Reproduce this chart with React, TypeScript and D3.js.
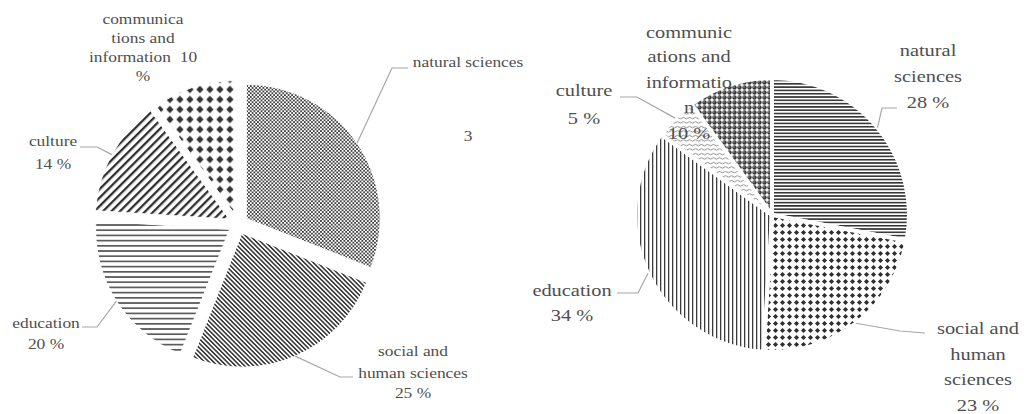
import React from 'react'
import * as d3 from 'd3'

// two survey pies, same five categories
const categories = [
	'natural sciences',
	'social and human sciences',
	'education',
	'culture',
	'communications and information'
]
const leftValues = [31, 25, 20, 14, 10]
const rightValues = [28, 23, 34, 5, 10]

// label text as it wraps in the original
const leftLabelLines = [
	['natural sciences', '3'],
	['social and', 'human sciences', '25 %'],
	['education', '20 %'],
	['culture', '14 %'],
	['communica', 'tions and', 'information  10', '%']
]
const rightLabelLines = [
	['natural', 'sciences', '28 %'],
	['social and', 'human', 'sciences', '23 %'],
	['education', '34 %'],
	['culture', '5 %'],
	['communic', 'ations and', 'informatio', 'n', '10 %']
]

interface ILabelPos {
	x: number
	ys: number[]
	leader?: [number, number][]
}

interface IPieConfig {
	cx: number
	cy: number
	r: number
	explode: number
	fontSize: number
	patterns: string[]
	labels: ILabelPos[]
}

const leftConfig: IPieConfig = {
	cx: 238,
	cy: 224,
	r: 134,
	explode: 10,
	fontSize: 14.5,
	patterns: ['pL0', 'pL1', 'pL2', 'pL3', 'pL4'],
	labels: [
		{ x: 468, ys: [67, 141], leader: [[408, 68], [392, 68]] },
		{ x: 413, ys: [356, 378, 398], leader: [[353, 377], [340, 377]] },
		{ x: 46, ys: [328, 349], leader: [[82, 327], [97, 327]] },
		{ x: 53, ys: [146, 169], leader: [[80, 147], [97, 147]] },
		{ x: 143, ys: [24, 43, 62, 81] }
	]
}

const rightConfig: IPieConfig = {
	cx: 772,
	cy: 215,
	r: 137,
	explode: 0,
	fontSize: 17,
	patterns: ['pR0', 'pR1', 'pR2', 'pR3', 'pR4'],
	labels: [
		{ x: 928, ys: [56, 82, 108], leader: [[897, 108], [882, 108]] },
		{ x: 978, ys: [334, 359.5, 385, 410.5], leader: [[925, 333], [900, 331]] },
		{ x: 572, ys: [296, 321], leader: [[617, 293], [638, 293]] },
		{ x: 584, ys: [96, 124], leader: [[620, 97], [637, 97]] },
		{ x: 689, ys: [38, 62, 88, 113, 139] }
	]
}

const textColor = '#4f4f4f'
const leaderColor = '#a6a6a6'

const Patterns = () => (
	<defs>
		{/* left pie */}
		<pattern id="pL0" width={3.6} height={3.6} patternUnits="userSpaceOnUse">
			<rect width={3.6} height={3.6} fill="#fff" />
			<rect x={0} y={0} width={1.8} height={1.8} fill="#444" />
			<rect x={1.8} y={1.8} width={1.8} height={1.8} fill="#444" />
		</pattern>
		<pattern id="pL1" width={3.2} height={10} patternUnits="userSpaceOnUse" patternTransform="rotate(-45)">
			<rect width={3.2} height={10} fill="#fff" />
			<rect width={1.6} height={10} fill="#3a3a3a" />
		</pattern>
		<pattern id="pL2" width={10} height={5.2} patternUnits="userSpaceOnUse">
			<rect width={10} height={5.2} fill="#fff" />
			<rect width={10} height={1.7} fill="#5a5a5a" />
		</pattern>
		<pattern id="pL3" width={6} height={10} patternUnits="userSpaceOnUse" patternTransform="rotate(45)">
			<rect width={6} height={10} fill="#fff" />
			<rect width={2.3} height={10} fill="#2f2f2f" />
		</pattern>
		<pattern id="pL4" width={10} height={10} patternUnits="userSpaceOnUse">
			<rect width={10} height={10} fill="#fff" />
			<path d="M5,1.3 L8.7,5 L5,8.7 L1.3,5 Z" fill="#333" />
		</pattern>
		{/* right pie */}
		<pattern id="pR0" width={10} height={3.3} patternUnits="userSpaceOnUse">
			<rect width={10} height={3.3} fill="#fff" />
			<rect width={10} height={1.6} fill="#333" />
		</pattern>
		<pattern id="pR1" width={7} height={7} patternUnits="userSpaceOnUse">
			<rect width={7} height={7} fill="#fff" />
			<path d="M3.5,0.9 L6.1,3.5 L3.5,6.1 L0.9,3.5 Z" fill="#303030" />
		</pattern>
		<pattern id="pR2" width={4} height={10} patternUnits="userSpaceOnUse">
			<rect width={4} height={10} fill="#fff" />
			<rect width={1.3} height={10} fill="#3c3c3c" />
		</pattern>
		<pattern id="pR3" width={6} height={4.5} patternUnits="userSpaceOnUse">
			<rect width={6} height={4.5} fill="#fff" />
			<path d="M0,2 Q1.5,0.6 3,2 T6,2" fill="none" stroke="#6a6a6a" strokeWidth={0.8} />
		</pattern>
		<pattern id="pR4" width={5} height={5} patternUnits="userSpaceOnUse">
			<rect width={5} height={5} fill="#fff" />
			<circle cx={2.5} cy={2.5} r={2.2} fill="#3a3a3a" />
			<circle cx={1.9} cy={1.9} r={0.7} fill="#bbb" />
		</pattern>
	</defs>
)

interface IPieProps {
	values: number[]
	labelLines: string[][]
	config: IPieConfig
}

const Pie = ({ values, labelLines, config }: IPieProps) => {
	const { cx, cy, r, explode, fontSize, patterns, labels } = config

	const arcs = d3
		.pie<number>()
		.sort(null)
		.value(d => d)(values)

	const arc = d3
		.arc<d3.PieArcDatum<number>>()
		.innerRadius(0)
		.outerRadius(r)

	const mid = (a: d3.PieArcDatum<number>) => (a.startAngle + a.endAngle) / 2

	return (
		<g>
			{arcs.map((a, i) => {
				const m = mid(a)
				const dx = Math.sin(m) * explode
				const dy = -Math.cos(m) * explode
				return (
					<path
						key={categories[i]}
						d={arc(a) || ''}
						transform={`translate(${cx + dx},${cy + dy})`}
						fill={`url(#${patterns[i]})`}
						stroke="#fff"
						strokeWidth={explode ? 1 : 4}
						strokeLinejoin="round"
					/>
				)
			})}
			{arcs.map((a, i) => {
				const lab = labels[i]
				if (!lab.leader) return null
				const m = mid(a)
				const rr = r + explode
				const tip: [number, number] = [cx + Math.sin(m) * rr, cy - Math.cos(m) * rr]
				const pts = [...lab.leader, tip]
				return (
					<path
						key={'l' + i}
						d={d3.line()(pts) || ''}
						fill="none"
						stroke={leaderColor}
						strokeWidth={1.2}
					/>
				)
			})}
			{labelLines.map((lines, i) =>
				lines.map((t, j) => (
					<text
						key={`t${i}-${j}`}
						transform={`translate(${labels[i].x},${labels[i].ys[j]}) scale(1.2,1)`}
						textAnchor="middle"
						fill={textColor}
						style={{ whiteSpace: 'pre', fontFamily: 'Liberation Serif', fontSize }}
					>
						{t}
					</text>
				))
			)}
		</g>
	)
}

const App = () => (
	<svg
		width={1026}
		height={414}
		style={{ position: 'absolute', left: 0, top: 0, background: '#fff' }}
	>
		<Patterns />
		<Pie values={leftValues} labelLines={leftLabelLines} config={leftConfig} />
		<Pie values={rightValues} labelLines={rightLabelLines} config={rightConfig} />
	</svg>
)

export default App
